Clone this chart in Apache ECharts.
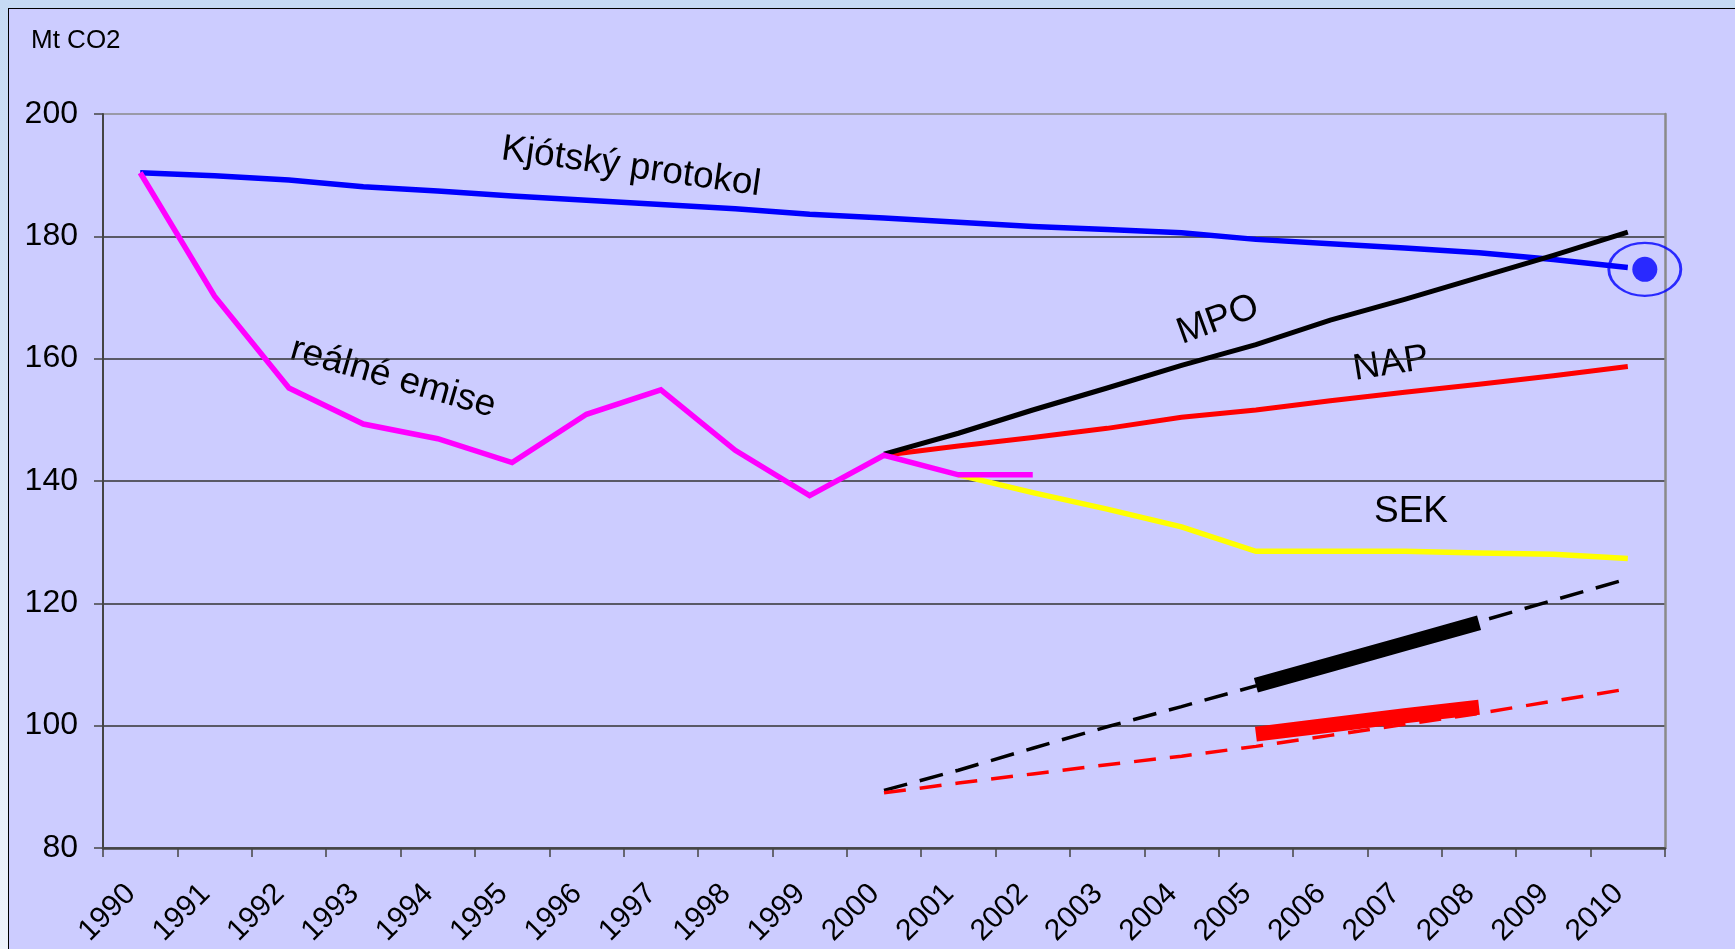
<!DOCTYPE html>
<html>
<head>
<meta charset="utf-8">
<script src="https://cdn.jsdelivr.net/npm/echarts@6/dist/echarts.min.js"></script>
<style>
  html, body { margin: 0; padding: 0; width: 1735px; height: 949px; overflow: hidden;
    background: linear-gradient(180deg, #c6daf4 0%, #dde8f8 60%, #eef3fb 100%); }
  #frame { position: absolute; left: 8px; top: 8px; width: 1740px; height: 950px;
    background: #ccccff; border-left: 1px solid #000; border-top: 1px solid #000; }
  #chart { position: absolute; left: 0; top: 0; width: 1735px; height: 949px; }
</style>
</head>
<body>
<div id="frame"></div>
<div id="chart"></div>
<script>
const years = ['1990','1991','1992','1993','1994','1995','1996','1997','1998','1999','2000',
               '2001','2002','2003','2004','2005','2006','2007','2008','2009','2010'];
const yTicks = [80, 100, 120, 140, 160, 180, 200];

const kyoto = [190.4, 189.9, 189.2, 188.1, 187.4, 186.6, 185.9, 185.2, 184.5, 183.6, 183.0,
               182.3, 181.6, 181.1, 180.6, 179.5, 178.8, 178.1, 177.3, 176.2, 174.9];
const realEmissions = [190.4, 170.2, 155.2, 149.3, 146.9, 143.0, 150.9, 154.9, 145.0, 137.6, 144.2,
                       141.0, 141.0, null, null, null, null, null, null, null, null];
const mpo = [null, null, null, null, null, null, null, null, null, null, 144.4,
             147.8, 151.6, 155.2, 158.9, 162.3, 166.3, 169.7, 173.3, 176.9, 180.7];
const nap = [null, null, null, null, null, null, null, null, null, null, 144.2,
             145.7, 147.1, 148.6, 150.4, 151.6, 153.1, 154.5, 155.8, 157.2, 158.7];
const sek = [null, null, null, null, null, null, null, null, null, null, null,
             141.0, 138.1, 135.4, 132.5, 128.5, 128.5, 128.5, 128.2, 128.0, 127.3];
const mpoDashed = [null, null, null, null, null, null, null, null, null, null, 89.4,
                   92.7, 96.3, 99.8, 103.1, 106.5, 110.0, 113.5, 117.0, 120.5, 124.0];
const napDashed = [null, null, null, null, null, null, null, null, null, null, 89.0,
                   90.6, 92.1, 93.6, 95.0, 96.6, 98.4, 100.2, 102.0, 104.0, 106.0];
const mpoThick = [null, null, null, null, null, null, null, null, null, null, null,
                  null, null, null, null, 106.6, 110.0, 113.4, 116.8, null, null];
const napThick = [null, null, null, null, null, null, null, null, null, null, null,
                  null, null, null, null, 98.6, 100.1, 101.6, 103.0, null, null];
const kyotoTarget = [null, null, null, null, null, null, null, null, null, null, null,
                     null, null, null, null, null, null, null, null, null, 174.6];

const labels = {
  kyoto: 'Kjótský protokol', real: 'reálné emise', mpo: 'MPO', nap: 'NAP', sek: 'SEK', unit: 'Mt CO2'
};

const FONT = 'Liberation Sans, Arial, sans-serif';
const chart = echarts.init(document.getElementById('chart'));

function line(name, data, color, width, extra) {
  return Object.assign({
    name: name, type: 'line', data: data, symbol: 'none', showSymbol: false,
    connectNulls: false, silent: true, animation: false,
    lineStyle: { color: color, width: width, cap: 'butt', join: 'miter' }
  }, extra || {});
}

const option = {
  animation: false,
  backgroundColor: 'transparent',
  textStyle: { fontFamily: FONT },
  grid: { left: 103, right: 70, top: 114, bottom: 99 },
  xAxis: {
    type: 'category', data: years, boundaryGap: true,
    axisLine: { lineStyle: { color: '#444', width: 2.5 } },
    axisTick: { show: true, length: 9, lineStyle: { color: '#444', width: 1.5 } },
    axisLabel: { rotate: 45, margin: 32, padding: [0, 13, 0, 0], color: '#000', fontSize: 30,
      fontFamily: FONT, interval: 0 },
    splitLine: { show: false }
  },
  yAxis: [{
    type: 'value', min: 80, max: 200, interval: 20,
    axisLine: { show: true, lineStyle: { color: '#444', width: 2 } },
    axisTick: { show: true, length: 9, lineStyle: { color: '#444', width: 1.5 } },
    axisLabel: { color: '#000', fontSize: 32, fontFamily: FONT, margin: 25,
      formatter: v => yTicks.indexOf(v) >= 0 ? String(v) : '' },
    splitLine: { show: true, lineStyle: { color: ['#333','#333','#333','#333','#333','#333','#8a8a8a'], width: 1.5 } }
  }, {
    type: 'value', min: 80, max: 200, interval: 20, position: 'right',
    axisLine: { show: true, lineStyle: { color: '#8a8a8a', width: 2.5 } },
    axisTick: { show: false }, axisLabel: { show: false }, splitLine: { show: false }
  }],
  graphic: [
    { type: 'text', left: 31, top: 28, style: { text: labels.unit, font: '26px ' + FONT, fill: '#000' } },
    { type: 'text', x: 631, y: 167, rotation: -8 * Math.PI / 180,
      style: { text: labels.kyoto, font: '37px ' + FONT, fill: '#000', align: 'center', verticalAlign: 'middle' } },
    { type: 'text', x: 393, y: 378, rotation: -16 * Math.PI / 180,
      style: { text: labels.real, font: '37px ' + FONT, fill: '#000', align: 'center', verticalAlign: 'middle' } },
    { type: 'text', x: 1218, y: 320, rotation: 20 * Math.PI / 180,
      style: { text: labels.mpo, font: '37px ' + FONT, fill: '#000', align: 'center', verticalAlign: 'middle' } },
    { type: 'text', x: 1391, y: 364, rotation: 9 * Math.PI / 180,
      style: { text: labels.nap, font: '37px ' + FONT, fill: '#000', align: 'center', verticalAlign: 'middle' } },
    { type: 'text', x: 1411, y: 512,
      style: { text: labels.sek, font: '37px ' + FONT, fill: '#000', align: 'center', verticalAlign: 'middle' } }
  ],
  series: [
    line('Kjótský protokol', kyoto, '#0000ff', 5.5),
    line('SEK', sek, '#ffff00', 5.5),
    line('NAP', nap, '#ff0000', 5),
    line('MPO', mpo, '#000000', 5),
    line('reálné emise', realEmissions, '#ff00ff', 5.5),
    line('MPO cíl', mpoDashed, '#000000', 3.5, { lineStyle: { color: '#000', width: 3.5, type: [24, 13], cap: 'butt' } }),
    line('NAP cíl', napDashed, '#ff0000', 3.5, { lineStyle: { color: '#ff0000', width: 3.5, type: [22, 14], cap: 'butt' } }),
    line('MPO pásmo', mpoThick, '#000000', 15),
    line('NAP pásmo', napThick, '#ff0000', 15),
    {
      name: 'cíl', type: 'scatter', data: kyotoTarget, silent: true, animation: false,
      symbol: 'circle', symbolSize: [72, 53], symbolOffset: [17, 0],
      itemStyle: { color: 'rgba(0,0,0,0)', borderColor: '#0000ff', borderWidth: 2.5 }, z: 5
    },
    {
      name: 'cíl bod', type: 'scatter', data: kyotoTarget, silent: true, animation: false,
      symbol: 'circle', symbolSize: 25, symbolOffset: [17, 0],
      itemStyle: { color: '#0000ff' }, z: 6
    }
  ]
};
chart.setOption(option);
</script>
</body>
</html>
